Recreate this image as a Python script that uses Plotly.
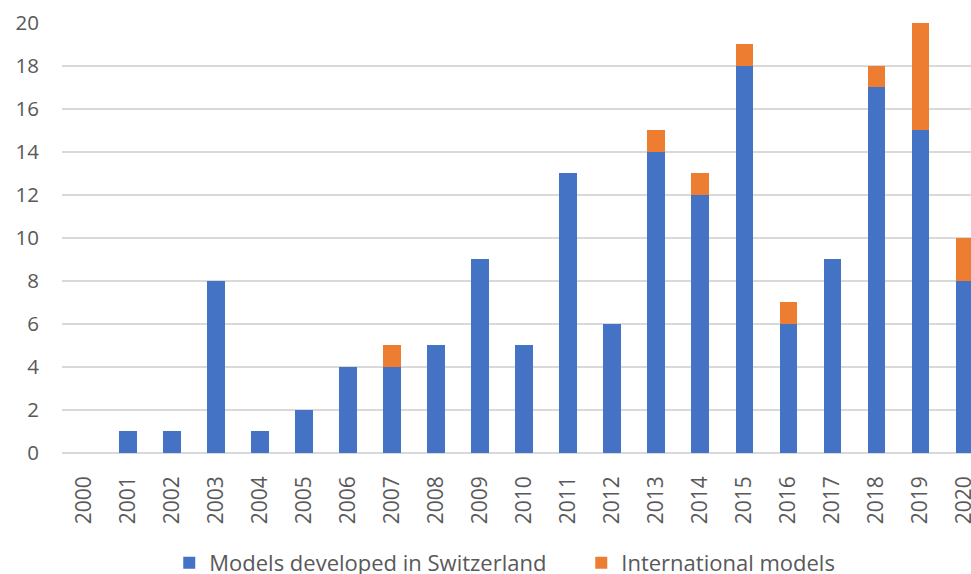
import plotly.graph_objects as go

years = [str(y) for y in range(2000, 2021)]
swiss = [0, 1, 1, 8, 1, 2, 4, 4, 5, 9, 5, 13, 6, 14, 12, 18, 6, 9, 17, 15, 8]
international = [0, 0, 0, 0, 0, 0, 0, 1, 0, 0, 0, 0, 0, 1, 1, 1, 1, 0, 1, 5, 2]
y_ticks = [0, 2, 4, 6, 8, 10, 12, 14, 16, 18, 20]

font_family = "Open Sans, Liberation Sans, sans-serif"
grey = "#595959"

fig = go.Figure()
fig.add_trace(go.Bar(x=years, y=swiss, name="Models developed in Switzerland",
                     marker=dict(color="#4472C4", line=dict(width=0))))
fig.add_trace(go.Bar(x=years, y=international, name="International models",
                     marker=dict(color="#ED7D31", line=dict(width=0))))

fig.update_layout(
    barmode="stack",
    bargap=0.6,
    width=971, height=574,
    margin=dict(l=62, r=0, t=22, b=121, autoexpand=False),
    paper_bgcolor="white", plot_bgcolor="white",
    font=dict(family=font_family, color=grey, size=20),
    showlegend=True,
    legend=dict(orientation="h", x=0.118, xanchor="left", y=-0.255, yanchor="middle",
                font=dict(size=22, color=grey, family=font_family),
                itemwidth=30, traceorder="normal", tracegroupgap=0,
                entrywidth=367, entrywidthmode="pixels"),
    xaxis=dict(type="category", range=[-0.5, 20.15], tickangle=-90, automargin=False,
               showgrid=False, showline=False, zeroline=False,
               tickfont=dict(size=21, color=grey), ticklabelstandoff=18),
    yaxis=dict(range=[0, 20.03], tickvals=y_ticks, showgrid=True, gridcolor="#D9D9D9",
               gridwidth=1.5, zeroline=True, zerolinecolor="#D9D9D9", zerolinewidth=1.5,
               automargin=False,
               showline=False, tickfont=dict(size=20.5, color=grey), ticklabelstandoff=22),
)

fig.write_html(
    "out.html",
    config={"responsive": False, "displayModeBar": False},
    post_script="document.body.style.margin='0';document.body.style.overflow='hidden';",
)
